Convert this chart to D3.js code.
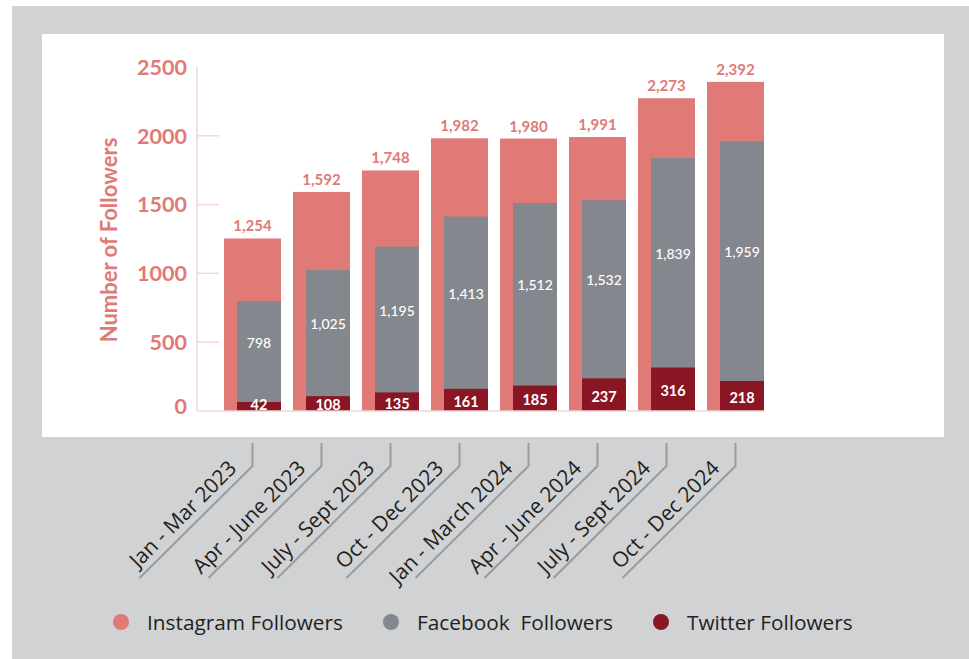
<!DOCTYPE html>
<html>
<head>
<meta charset="utf-8">
<script src="https://cdn.jsdelivr.net/npm/d3@7"></script>
<style>
  html, body { margin: 0; padding: 0; background: #fff; }
  svg { display: block; }
</style>
</head>
<body>
<svg id="chart" width="969" height="659"></svg>
<script>
const periods = [
  "Jan - Mar 2023", "Apr - June 2023", "July - Sept 2023", "Oct - Dec 2023",
  "Jan - March 2024", "Apr - June 2024", "July - Sept 2024", "Oct - Dec 2024",
];
const instagram = [1254, 1592, 1748, 1982, 1980, 1991, 2273, 2392];
const facebook = [798, 1025, 1195, 1413, 1512, 1532, 1839, 1959];
const twitter = [42, 108, 135, 161, 185, 237, 316, 218];
const yTicks = [0, 500, 1000, 1500, 2000, 2500];
const legendItems = ["Instagram Followers", "Facebook  Followers", "Twitter Followers"];

const PINK = "#e07a76";
const GREY = "#85878e";
const RED = "#8a1624";
const BG = "#d1d2d4";
const AXIS = "#f3d6d4";
const INK = "#231f20";

const svg = d3.select("#chart");

// backdrop panels
svg.append("rect").attr("x", 12).attr("y", 6).attr("width", 957).attr("height", 653).attr("fill", BG);
svg.append("rect").attr("x", 42).attr("y", 34).attr("width", 902).attr("height", 403).attr("fill", "#fff");

const y = d3.scaleLinear().domain([0, 2500]).range([411, 67]);
const x = d3.scaleBand().domain(periods).range([224, 764]).paddingInner(12 / 69).paddingOuter(0);
const inset = 13;

const rows = periods.map((p, i) => ({ p, ig: instagram[i], fb: facebook[i], tw: twitter[i] }));

// y axis
const axisX = 197;
svg.append("line").attr("x1", axisX).attr("x2", axisX).attr("y1", y(2500)).attr("y2", y(0))
  .attr("stroke", AXIS).attr("stroke-width", 1.5);
svg.selectAll(".tick-line").data(yTicks.filter(t => t > 0 && t < 2500)).join("line")
  .attr("x1", axisX).attr("x2", axisX + 22)
  .attr("y1", d => y(d)).attr("y2", d => y(d))
  .attr("stroke", AXIS).attr("stroke-width", 1.5);
svg.selectAll(".tick-label").data(yTicks).join("text")
  .attr("x", 187).attr("y", d => y(d) - (d === 0 ? 5 : 0))
  .attr("dy", "0.36em").attr("text-anchor", "end")
  .attr("font-family", "Lato, sans-serif").attr("font-weight", 700).attr("font-size", 21.5)
  .attr("fill", PINK).text(d => d);

svg.append("text")
  .attr("transform", `translate(109,240) rotate(-90)`)
  .attr("text-anchor", "middle").attr("dy", "0.36em")
  .attr("font-family", "Lato, sans-serif").attr("font-weight", 700).attr("font-size", 22)
  .attr("fill", PINK).text("Number of Followers");

// bars
const bars = svg.append("g");
bars.selectAll(".ig").data(rows).join("rect")
  .attr("x", d => x(d.p)).attr("width", x.bandwidth())
  .attr("y", d => y(d.ig)).attr("height", d => y(0) - y(d.ig))
  .attr("fill", PINK);
bars.selectAll(".fb").data(rows).join("rect")
  .attr("x", d => x(d.p) + inset).attr("width", x.bandwidth() - inset)
  .attr("y", d => y(d.fb)).attr("height", d => y(0) - y(d.fb))
  .attr("fill", GREY);
const twTop = d => Math.min(y(d.tw), y(0) - 9);
bars.selectAll(".tw").data(rows).join("rect")
  .attr("x", d => x(d.p) + inset).attr("width", x.bandwidth() - inset)
  .attr("y", twTop).attr("height", d => y(0) - twTop(d))
  .attr("fill", RED);

// baseline
svg.append("line").attr("x1", axisX).attr("x2", x.range()[1]).attr("y1", y(0)).attr("y2", y(0))
  .attr("stroke", AXIS).attr("stroke-width", 1.5);

// value labels
const fmt = d3.format(",");
svg.selectAll(".ig-label").data(rows).join("text")
  .attr("x", d => x(d.p) + x.bandwidth() / 2).attr("y", d => y(d.ig) - 7)
  .attr("text-anchor", "middle")
  .attr("font-family", "Lato, sans-serif").attr("font-weight", 700).attr("font-size", 15)
  .attr("fill", PINK).text(d => fmt(d.ig));
svg.selectAll(".fb-label").data(rows).join("text")
  .attr("x", d => x(d.p) + inset + (x.bandwidth() - inset) / 2)
  .attr("y", d => (y(d.fb) + twTop(d)) / 2 - 9)
  .attr("dy", "0.36em").attr("text-anchor", "middle")
  .attr("font-family", "Lato, sans-serif").attr("font-weight", 500).attr("font-size", 14)
  .attr("fill", "#fff").text(d => fmt(d.fb));
svg.selectAll(".tw-label").data(rows).join("text")
  .attr("x", d => x(d.p) + inset + (x.bandwidth() - inset) / 2)
  .attr("y", d => Math.min((twTop(d) + y(0)) / 2 + 2, 405))
  .attr("dy", "0.36em").attr("text-anchor", "middle")
  .attr("font-family", "Lato, sans-serif").attr("font-weight", 700).attr("font-size", 14.5)
  .attr("fill", "#fff").text(d => fmt(d.tw));

// category labels with bracket lines
const cat = svg.selectAll(".cat").data(periods).join("g")
  .attr("transform", d => `translate(${x(d) + x.bandwidth() / 2},443)`);
cat.append("path")
  .attr("d", "M0,0 V23 l-113,112")
  .attr("fill", "none").attr("stroke", "#9a9b9d").attr("stroke-width", 2);
cat.append("text")
  .attr("transform", "translate(0,23) rotate(-45)")
  .attr("x", -13).attr("y", -8)
  .attr("text-anchor", "end")
  .attr("font-family", "'Open Sans', sans-serif").attr("font-size", 21)
  .attr("fill", INK).text(d => d);

// legend
const legendX = [121, 391, 661];
const legend = svg.selectAll(".legend").data(legendItems).join("g")
  .attr("transform", (d, i) => `translate(${legendX[i]},622)`);
legend.append("circle").attr("r", 8).attr("fill", (d, i) => [PINK, GREY, RED][i]);
legend.append("text")
  .attr("x", 26).attr("dy", "0.36em")
  .attr("font-family", "'Open Sans', sans-serif").attr("font-size", 20.8)
  .attr("fill", INK).style("white-space", "pre").text(d => d);
</script>
</body>
</html>
